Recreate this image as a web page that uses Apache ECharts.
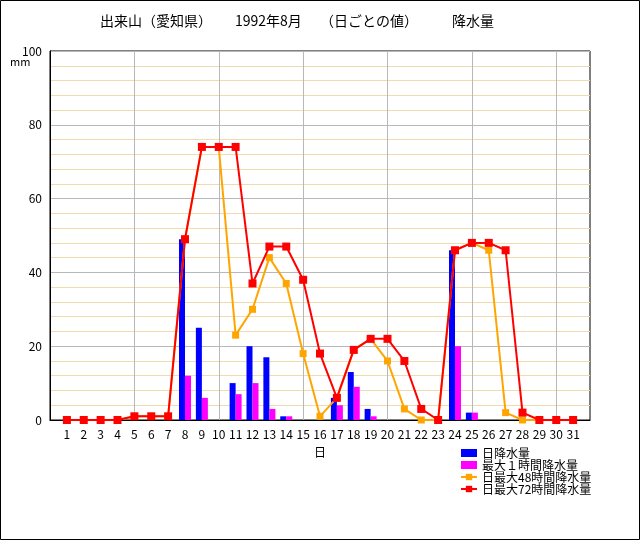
<!DOCTYPE html>
<html><head><meta charset="utf-8">
<script src="https://cdn.jsdelivr.net/npm/echarts@6/dist/echarts.min.js"></script>
<style>html,body{margin:0;padding:0;background:#fff}#c{width:640px;height:540px}</style>
</head><body><div id="c"></div>
<script>
const days = ['', '1','2','3','4','5','6','7','8','9','10','11','12','13','14','15','16','17','18','19','20','21','22','23','24','25','26','27','28','29','30','31',''];
const dailyRain = [null, 0,0,0,0,0,0,0,49,25,0,10,20,17,1,0,0,6,13,3,0,0,0,0,46,2,0,0,0,0,0,0, null];
const max1h = [null, 0,0,0,0,0,0,0,12,6,0,7,10,3,1,0,0,4,9,1,0,0,0,0,20,2,0,0,0,0,0,0, null];
const max48h = [null, 0,0,0,0,1,1,1,49,74,74,23,30,44,37,18,1,6,19,22,16,3,0,0,46,48,46,2,0,0,0,0, null];
const max72h = [null, 0,0,0,0,1,1,1,49,74,74,74,37,47,47,38,18,6,19,22,22,16,3,0,46,48,48,46,2,0,0,0, null];
const yTicks = [0,20,40,60,80,100];
const font = '"Noto Sans CJK JP", sans-serif';
const ts = {fontSize:14, color:'#000', fontFamily:font};
const chart = echarts.init(document.getElementById('c'));
chart.setOption({
  animation:false,
  backgroundColor:'#fff',
  textStyle:{fontFamily:font},
  title:{text:'{a|出来山（愛知県）}{b|1992年8月}{c|（日ごとの値）}{d|降水量}', left:100, top:14, padding:0,
    textStyle:{fontSize:14, fontWeight:'normal', color:'#000', fontFamily:font,
      rich:{a:Object.assign({width:135},ts), b:Object.assign({width:85},ts), c:Object.assign({width:132},ts), d:ts}}},
  graphic:[
    {type:'rect', shape:{x:0.5,y:0.5,width:639,height:539}, style:{fill:null, stroke:'#000', lineWidth:1}, silent:true},
    {type:'text', left:10, top:56, style:{text:'mm', fontSize:11, fill:'#000', fontFamily:font}}
  ],
  grid:{left:50, right:50, top:51, bottom:120, show:true, borderColor:'#000', borderWidth:1, backgroundColor:'transparent'},
  legend:{orient:'vertical', left:455, top:442, itemGap:0, itemWidth:16, itemHeight:8,
    textStyle:{fontSize:12, color:'#000', fontFamily:font},
    data:[{name:'日降水量', icon:'rect'} ,{name:'最大１時間降水量', icon:'rect'},'日最大48時間降水量','日最大72時間降水量']},
  xAxis:{type:'category', data:days, boundaryGap:false, name:'日', nameLocation:'middle', nameGap:26,
    nameTextStyle:{fontSize:12, color:'#000', fontFamily:font},
    axisLine:{lineStyle:{color:'#000'}}, axisTick:{show:false},
    axisLabel:{interval:0, color:'#000', fontSize:12, margin:8},
    splitLine:{show:true, interval:function(i){return i>0 && i<32 && i%5===0;}, lineStyle:{color:'#b8b8b8', width:1}}},
  yAxis:{type:'value', min:0, max:100, interval:20,
    axisLine:{show:true, lineStyle:{color:'#000'}}, axisTick:{show:false},
    axisLabel:{color:'#000', fontSize:12, margin:8, formatter:function(v){return yTicks.indexOf(v)>=0?String(v):'';}},
    splitLine:{show:true, lineStyle:{color:'#b8b8b8', width:1}},
    minorTick:{show:false, splitNumber:5},
    minorSplitLine:{show:true, lineStyle:{color:'#f0dbb0', width:1}}},
  series:[
    {name:'日降水量', type:'bar', data:dailyRain, barWidth:6, barGap:'0%', itemStyle:{color:'#0000ff'}, z:2},
    {name:'最大１時間降水量', type:'bar', data:max1h, barWidth:6, barGap:'0%', itemStyle:{color:'#ff00ff'}, z:2},
    {name:'日最大48時間降水量', type:'line', data:max48h, symbol:'rect', symbolSize:7, showAllSymbol:true,
      lineStyle:{color:'#ffa500', width:2}, itemStyle:{color:'#ffa500'}, z:3},
    {name:'日最大72時間降水量', type:'line', data:max72h, symbol:'rect', symbolSize:8, showAllSymbol:true,
      lineStyle:{color:'#ff0000', width:2}, itemStyle:{color:'#ff0000'}, z:4}
  ]
});
</script></body></html>
